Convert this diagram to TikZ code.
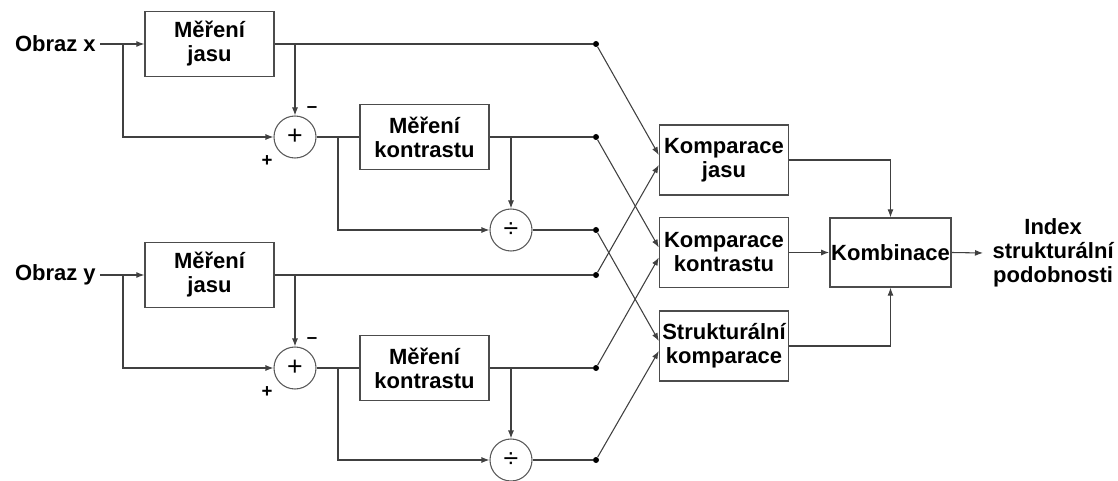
\documentclass[tikz,border=0pt]{standalone}
\usepackage{fontspec}
\setmainfont{Liberation Sans}
\usetikzlibrary{arrows.meta}

\tikzset{
  blok/.style={draw=black!70, line width=1pt, minimum width=96.75pt, minimum height=48.75pt,
    align=center, inner sep=1pt, font=\fontsize{16.5}{18}\selectfont\bfseries},
  komp/.style={blok, minimum height=52.5pt},
  krouzek/.style={draw=black!65, line width=0.8pt, circle, minimum size=31.5pt, inner sep=0pt,
    font=\fontsize{20}{20}\selectfont},
  spoj/.style={black!75, line width=0.8pt},
  sipka/.style={spoj, -{Latex[length=6pt,width=4.5pt]}},
  tecka/.style={circle, fill=black, inner sep=0pt, minimum size=4.5pt},
  popis/.style={align=center, font=\fontsize{16.5}{18}\selectfont\bfseries},
  znak/.style={inner sep=0pt, font=\fontsize{14}{14}\selectfont\bfseries},
}

\begin{document}
\begin{tikzpicture}[x=0.75pt, y=-0.75pt]
\useasboundingbox (0,0) rectangle (1118,481);

% vstupy
\node[popis, anchor=east, inner sep=3pt] (inx) at (100,44) {Obraz x};
\node[popis, anchor=east, inner sep=3pt] (iny) at (100,275) {Obraz y};

% vetev x
\node[blok] (jx) at (209.5,44) {Měření\\jasu};
\node[krouzek] (sx) at (295,137) {+};
\node[blok] (kx) at (424.5,137) {Měření\\kontrastu};
\node[krouzek] (dx) at (511,230) {÷};
\node[znak] (mx) at (312,110) {–};
\node[znak] (px) at (267,161) {+};
\coordinate (bx) at (123,44);
\coordinate (bsx) at (338,137);

% vetev y
\node[blok] (jy) at (209.5,275) {Měření\\jasu};
\node[krouzek] (sy) at (295,368) {+};
\node[blok] (ky) at (424.5,368) {Měření\\kontrastu};
\node[krouzek] (dy) at (511,460) {÷};
\node[znak] (my) at (312,341) {–};
\node[znak] (py) at (267,392) {+};
\coordinate (by) at (123,275);
\coordinate (bsy) at (338,368);

% body
\node[tecka] (tjx) at (596,44) {};
\node[tecka] (tkx) at (596,137) {};
\node[tecka] (tdx) at (596,230) {};
\node[tecka] (tjy) at (596,275) {};
\node[tecka] (tky) at (596,368) {};
\node[tecka] (tdy) at (596,460) {};

% komparace
\node[komp] (kj) at (724,160) {Komparace\\jasu};
\node[komp] (kk) at (724,252.5) {Komparace\\kontrastu};
\node[komp] (sk) at (724,346) {Strukturální\\komparace};
\node[blok, minimum width=89.25pt, minimum height=51.75pt] (kb) at (890.5,252.5) {Kombinace};
\node[popis, anchor=west, inner xsep=7pt] (idx) at (983,253) {Index\\strukturální\\podobnosti};

% spoje x
\draw[sipka] (inx.east) -- (jx.west);
\draw[sipka] (bx) |- (sx.west);
\draw[spoj] (jx.east) -- (tjx);
\draw[sipka] (jx.east -| sx.north) -- (sx.north);
\draw[spoj] (sx.east) -- (kx.west);
\draw[sipka] (bsx) |- (dx.west);
\draw[spoj] (kx.east) -- (tkx);
\draw[sipka] (kx.east -| dx.north) -- (dx.north);
\draw[spoj] (dx.east) -- (tdx);

% spoje y
\draw[sipka] (iny.east) -- (jy.west);
\draw[sipka] (by) |- (sy.west);
\draw[spoj] (jy.east) -- (tjy);
\draw[sipka] (jy.east -| sy.north) -- (sy.north);
\draw[spoj] (sy.east) -- (ky.west);
\draw[sipka] (bsy) |- (dy.west);
\draw[spoj] (ky.east) -- (tky);
\draw[sipka] (ky.east -| dy.north) -- (dy.north);
\draw[spoj] (dy.east) -- (tdy);

% krizeni
\draw[sipka] (tjx) -- ([yshift=3.75pt]kj.west);
\draw[sipka] (tjy) -- ([yshift=-3.75pt]kj.west);
\draw[sipka] (tkx) -- ([yshift=3.75pt]kk.west);
\draw[sipka] (tky) -- ([yshift=-3.75pt]kk.west);
\draw[sipka] (tdx) -- ([yshift=3.75pt]sk.west);
\draw[sipka] (tdy) -- ([yshift=-3.75pt]sk.west);

% kombinace
\draw[sipka] (kj.east) -| (kb.north);
\draw[sipka] (kk.east) -- (kb.west);
\draw[sipka] (sk.east) -| (kb.south);
\draw[sipka] (kb.east) -- (idx.west);
\end{tikzpicture}
\end{document}
